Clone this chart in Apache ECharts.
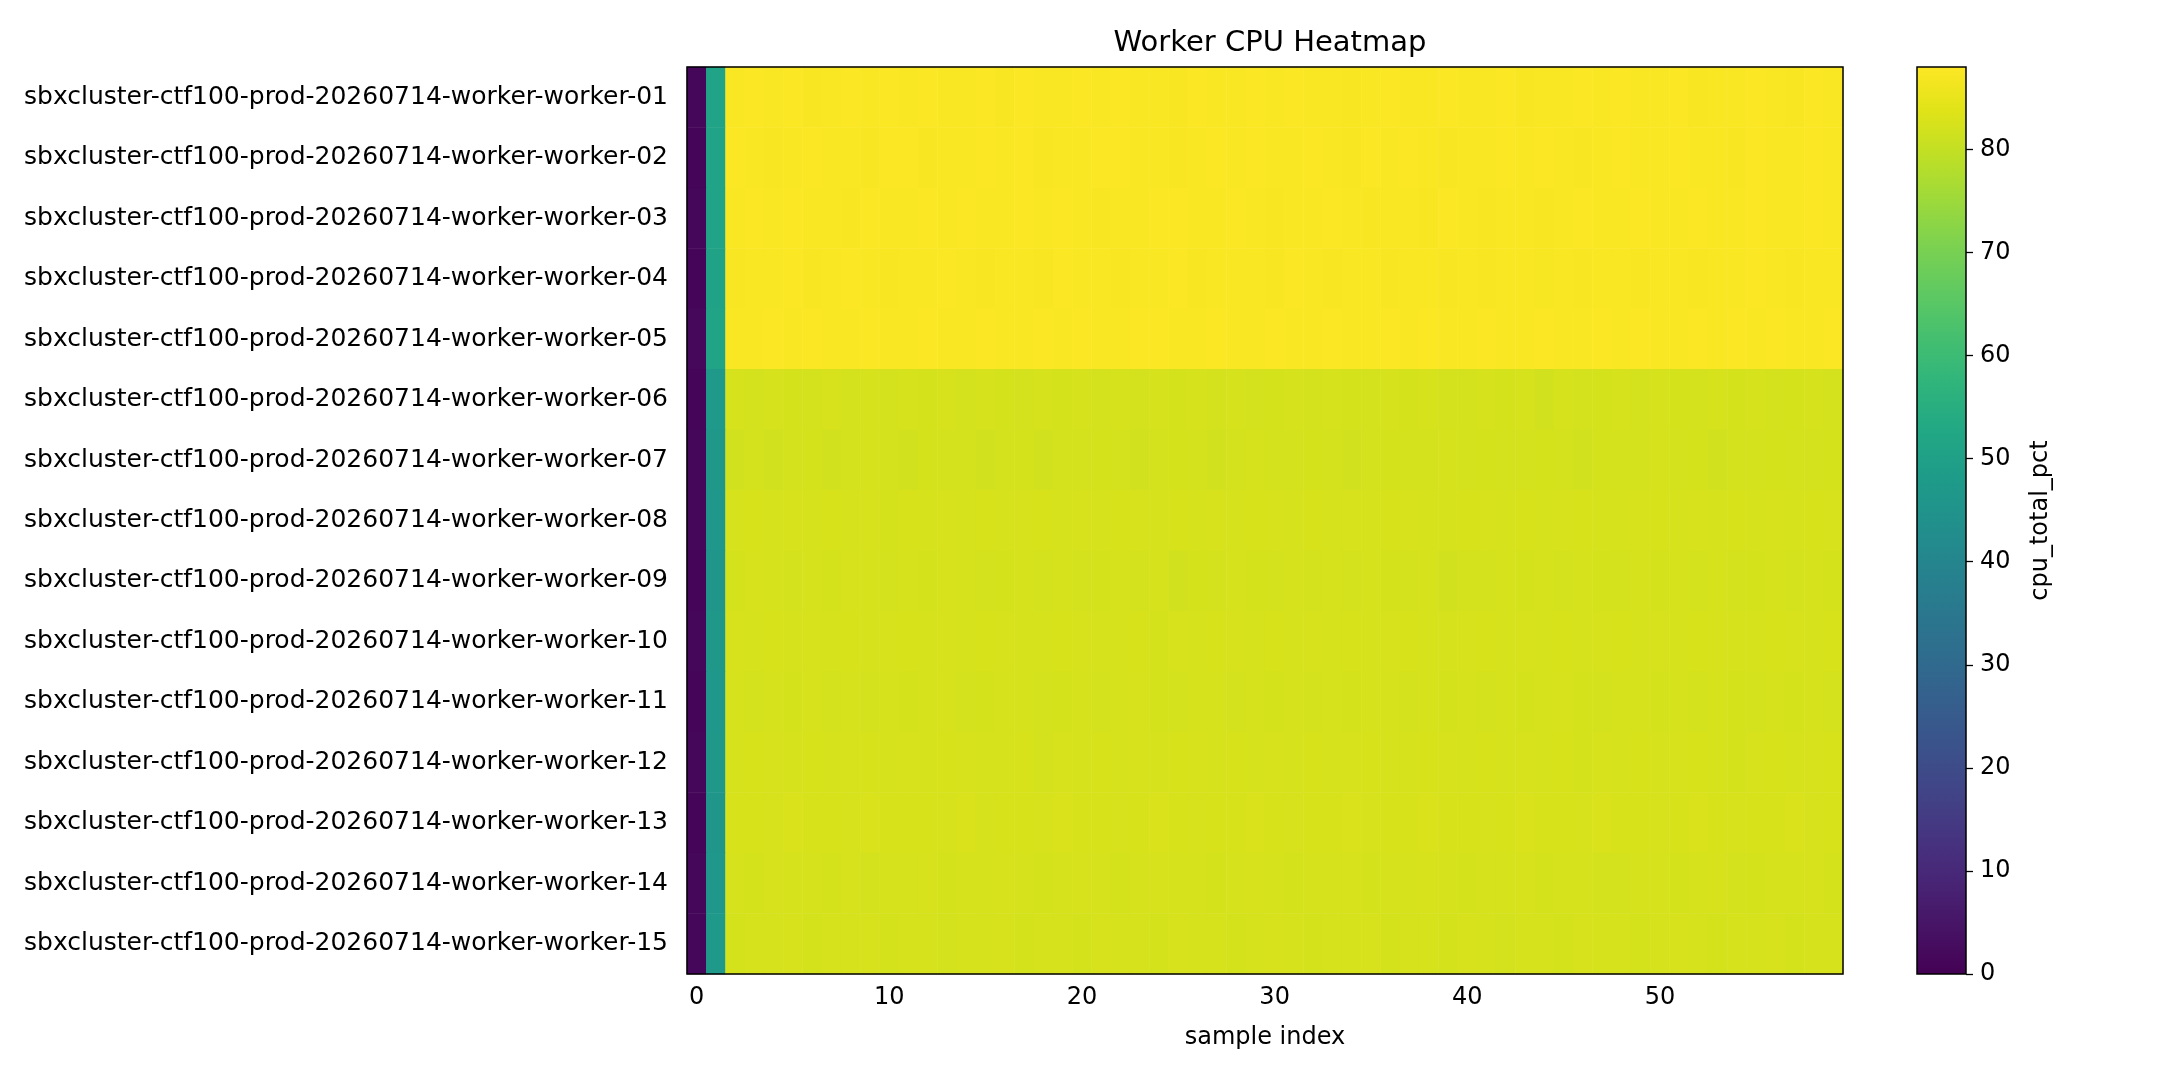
<!DOCTYPE html>
<html>
<head>
<meta charset="utf-8">
<script src="https://cdn.jsdelivr.net/npm/echarts@6/dist/echarts.min.js"></script>
<style>html,body{margin:0;padding:0;background:#fff}#main{width:2160px;height:1080px}</style>
</head>
<body>
<div id="main"></div>
<script>
var workers = [];
for (var w = 1; w <= 15; w++) {
  workers.push('sbxcluster-ctf100-prod-20260714-worker-worker-' + (w < 10 ? '0' + w : w));
}
var samples = [];
for (var s = 0; s < 60; s++) samples.push(String(s));

// cpu_total_pct per worker, 60 samples each
var w01 = [1.4,51.0,87.6,87.8,87.5,87.7,87.2,87.6,87.8,87.5,87.7,87.6,87.8,87.5,87.6,87.7,87.4,87.8,87.6,87.5,87.7,87.6,87.8,87.5,87.6,87.4,87.7,87.6,87.5,87.8,87.6,87.7,87.5,87.6,87.4,87.6,87.8,87.5,87.6,87.7,87.5,87.6,87.8,87.4,87.6,87.5,87.7,87.6,87.8,87.5,87.6,87.7,87.3,87.6,87.5,87.8,87.6,87.2,87.7,87.6];
var w02 = [1.3,50.8,87.7,87.5,87.2,87.6,87.8,87.5,87.6,87.4,87.7,87.8,87.3,87.6,87.5,87.7,87.6,87.8,87.4,87.6,87.5,87.7,87.8,87.6,87.5,87.4,87.6,87.7,87.5,87.8,87.6,87.5,87.7,87.6,87.4,87.7,87.5,87.8,87.6,87.2,87.5,87.6,87.7,87.5,87.8,87.6,87.4,87.6,87.7,87.5,87.6,87.8,87.5,87.6,87.4,87.7,87.6,87.5,87.8,87.6];
var w03 = [1.5,51.1,87.5,87.7,87.6,87.8,87.5,87.6,87.4,87.7,87.6,87.5,87.8,87.6,87.7,87.5,87.6,87.8,87.5,87.7,87.6,87.4,87.6,87.5,87.7,87.8,87.6,87.5,87.7,87.6,87.3,87.6,87.5,87.7,87.6,87.2,87.5,87.6,87.4,87.7,87.6,87.3,87.6,87.5,87.2,87.6,87.7,87.5,87.6,87.8,87.5,87.6,87.7,87.5,87.6,87.8,87.6,87.5,87.7,87.6];
var w04 = [1.2,50.7,87.3,87.6,87.5,87.7,87.4,87.6,87.8,87.5,87.3,87.6,87.5,87.7,87.6,87.4,87.5,87.6,87.3,87.7,87.5,87.6,87.4,87.6,87.5,87.7,87.3,87.6,87.5,87.6,87.4,87.7,87.5,87.3,87.6,87.5,87.2,87.6,87.5,87.3,87.6,87.2,87.5,87.6,87.1,87.5,87.3,87.6,87.5,87.4,87.6,87.5,87.3,87.6,87.5,87.7,87.6,87.4,87.6,87.5];
var w05 = [1.6,51.2,87.6,87.5,87.7,87.6,87.8,87.5,87.6,87.7,87.5,87.6,87.8,87.6,87.5,87.7,87.6,87.5,87.8,87.6,87.7,87.5,87.6,87.7,87.8,87.5,87.6,87.7,87.5,87.6,87.8,87.6,87.5,87.7,87.6,87.5,87.8,87.6,87.7,87.5,87.6,87.8,87.5,87.6,87.7,87.6,87.5,87.8,87.6,87.7,87.5,87.6,87.7,87.5,87.8,87.6,87.7,87.5,87.6,87.7];
var w06 = [1.3,47.0,82.3,82.0,82.4,82.2,82.0,82.5,82.1,82.3,82.0,82.4,82.2,82.5,82.1,82.3,82.2,82.0,82.4,82.2,82.3,82.1,82.4,82.0,82.3,82.2,82.4,82.1,82.3,82.0,82.2,82.4,82.1,82.3,82.2,82.0,82.4,82.2,82.3,82.1,82.0,82.3,82.2,82.4,81.9,82.3,82.1,82.2,82.4,82.0,82.3,82.2,82.1,82.4,82.2,82.3,82.0,82.2,82.3,82.1];
var w07 = [1.4,46.7,81.9,82.1,81.8,82.0,82.2,81.9,82.1,82.3,82.0,81.9,82.2,82.0,82.1,81.8,82.0,82.2,81.9,82.1,82.0,82.2,82.1,81.9,82.0,82.2,82.1,81.8,82.0,82.3,82.1,82.0,82.2,82.1,81.9,82.0,82.2,82.0,82.1,82.3,82.0,82.2,82.1,82.0,82.2,82.1,81.9,82.2,82.0,82.1,82.3,82.0,82.2,81.9,82.1,82.0,82.2,82.1,82.0,82.2];
var w08 = [1.5,46.4,82.4,82.6,82.3,82.5,82.4,82.6,82.3,82.5,82.2,82.6,82.4,82.5,82.3,82.6,82.4,82.5,82.6,82.3,82.5,82.4,82.6,82.5,82.3,82.6,82.4,82.5,82.3,82.6,82.5,82.4,82.6,82.3,82.5,82.4,82.6,82.5,82.3,82.4,82.6,82.5,82.3,82.6,82.4,82.5,82.6,82.4,82.3,82.5,82.6,82.4,82.5,82.3,82.6,82.4,82.5,82.3,82.6,82.5];
var w09 = [1.2,46.1,82.2,82.5,82.3,82.0,82.4,82.2,82.5,82.3,82.1,82.4,82.2,82.5,82.3,82.0,82.2,82.4,82.1,82.3,82.0,82.2,82.4,82.1,82.3,81.9,82.2,82.0,82.4,82.2,82.1,82.3,82.0,82.4,82.1,82.3,82.2,82.0,82.3,81.9,82.0,82.1,82.4,82.2,82.3,82.1,82.4,82.2,82.0,82.3,82.2,82.4,82.1,82.3,82.0,82.2,82.4,82.1,82.3,82.2];
var w10 = [1.4,46.8,82.5,82.3,82.6,82.4,82.5,82.3,82.6,82.4,82.5,82.6,82.3,82.5,82.4,82.6,82.5,82.3,82.4,82.6,82.5,82.4,82.3,82.6,82.2,82.5,82.4,82.6,82.5,82.3,82.6,82.4,82.5,82.3,82.6,82.4,82.5,82.6,82.4,82.3,82.5,82.6,82.4,82.5,82.3,82.6,82.4,82.5,82.6,82.3,82.5,82.4,82.6,82.5,82.3,82.4,82.6,82.5,82.4,82.6];
var w11 = [1.3,46.2,82.3,82.1,82.4,82.2,82.5,82.0,82.3,82.1,82.4,82.2,82.3,82.5,82.1,82.2,82.4,82.3,82.0,82.2,82.4,82.1,82.3,82.5,82.2,82.0,82.3,82.4,82.1,82.3,82.2,82.4,82.1,82.3,82.2,82.4,82.3,82.1,82.4,82.2,82.3,82.1,82.4,82.2,82.3,82.5,82.2,82.1,82.3,82.4,82.2,82.3,82.1,82.4,82.2,82.0,82.3,82.2,82.4,82.1];
var w12 = [1.5,46.6,82.4,82.6,82.5,82.3,82.6,82.4,82.5,82.6,82.3,82.5,82.4,82.6,82.5,82.3,82.4,82.6,82.1,82.5,82.4,82.6,82.3,82.5,82.4,82.6,82.5,82.3,82.6,82.4,82.5,82.3,82.6,82.4,82.5,82.6,82.3,82.4,82.6,82.5,82.3,82.6,82.4,82.5,82.3,82.6,82.2,82.5,82.4,82.6,82.3,82.5,82.6,82.4,82.2,82.5,82.6,82.4,82.5,82.6];
var w13 = [1.2,45.8,82.6,82.7,82.5,82.8,82.6,82.7,82.5,82.8,82.6,82.7,82.6,82.5,82.8,82.4,82.7,82.6,82.5,82.8,82.6,82.7,82.5,82.6,82.8,82.7,82.5,82.6,82.7,82.8,82.6,82.5,82.7,82.6,82.8,82.5,82.7,82.6,82.8,82.6,82.7,82.5,82.6,82.8,82.7,82.6,82.5,82.8,82.7,82.6,82.5,82.7,82.8,82.6,82.5,82.7,82.6,82.8,82.5,82.7];
var w14 = [1.4,46.5,82.4,82.2,82.5,82.3,82.4,82.2,82.5,82.0,82.4,82.3,82.5,82.2,82.4,82.3,82.5,82.4,82.2,82.3,82.5,82.4,82.2,82.3,82.5,82.4,82.3,82.2,82.4,82.5,82.3,82.2,82.4,82.3,82.5,82.2,82.4,82.3,82.5,82.4,82.2,82.3,82.4,82.5,82.2,82.3,82.4,82.1,82.0,82.3,82.4,82.2,82.3,82.5,82.0,82.2,82.4,82.3,82.5,82.2];
var w15 = [1.5,47.1,82.2,82.4,82.3,82.5,82.2,82.4,82.3,82.5,82.2,82.4,82.3,82.1,82.4,82.3,82.5,82.2,82.4,82.3,82.2,82.5,82.3,82.4,82.2,82.5,82.3,82.4,82.2,82.3,82.5,82.4,82.2,82.3,82.4,82.5,82.2,82.3,82.4,82.2,82.5,82.3,82.0,82.4,82.3,82.2,82.5,82.4,82.3,82.2,82.4,82.5,82.3,82.2,82.4,82.3,82.5,82.2,82.4,82.3];
var rows = [w01,w02,w03,w04,w05,w06,w07,w08,w09,w10,w11,w12,w13,w14,w15];

var colorMin = 0, colorMax = 88;
// viridis sampled every 0.05
var viridis = ['#440154','#471365','#482475','#463480','#414487','#3b528b','#355f8d','#2f6c8e','#2a788e','#25848e','#21918c',
  '#1e9c89','#22a884','#2fb47c','#44bf70','#5ec962','#7ad151','#9bd93c','#bddf26','#dfe318','#fde725'];

var heat = [];
rows.forEach(function(r, i) {
  r.forEach(function(v, j) { heat.push([j, i, v]); });
});

var gradStops = viridis.map(function(c, i) {
  return { offset: 1 - i / (viridis.length - 1), color: c };
});

var chart = echarts.init(document.getElementById('main'));
var font = 'DejaVu Sans';
chart.setOption({
  animation: false,
  textStyle: { fontFamily: font },
  title: {
    text: 'Worker CPU Heatmap', left: 1265, top: 24, textAlign: 'center',
    textStyle: { fontSize: 29, fontWeight: 'normal', color: '#000', fontFamily: font }
  },
  grid: [
    { left: 687, top: 67, width: 1156, height: 907 },
    { left: 1917, top: 67, width: 49, height: 907 }
  ],
  xAxis: [{
    type: 'category', data: samples, gridIndex: 0,
    name: 'sample index', nameLocation: 'middle', nameGap: 52,
    nameTextStyle: { fontSize: 24, color: '#000' },
    axisLine: { show: false },
    axisTick: { interval: 9, alignWithLabel: true, length: 7, lineStyle: { color: '#000', width: 1.3 } },
    axisLabel: { interval: 9, fontSize: 24, color: '#000', margin: 12 },
    splitLine: { show: false }
  }, {
    type: 'category', data: ['c'], gridIndex: 1, show: false
  }],
  yAxis: [{
    type: 'category', data: workers, gridIndex: 0, inverse: true,
    axisLine: { show: false },
    axisTick: { alignWithLabel: true, length: 7, lineStyle: { color: '#000', width: 1.3 } },
    axisLabel: { fontSize: 25, color: '#000', margin: 19 },
    splitLine: { show: false }
  }, {
    type: 'value', gridIndex: 1, position: 'right', min: colorMin, max: colorMax, interval: 10,
    name: 'cpu_total_pct', nameLocation: 'middle', nameGap: 63, nameRotate: 90,
    nameTextStyle: { fontSize: 24, color: '#000' },
    axisLine: { show: false },
    axisTick: { show: true, length: 7, lineStyle: { color: '#000', width: 1.3 } },
    axisLabel: { fontSize: 24, color: '#000', margin: 14, showMaxLabel: false },
    splitLine: { show: false }
  }],
  visualMap: {
    show: false, type: 'continuous', min: colorMin, max: colorMax, seriesIndex: 0,
    inRange: { color: viridis }
  },
  series: [{
    type: 'heatmap', data: heat, xAxisIndex: 0, yAxisIndex: 0
  }, {
    type: 'bar', data: [colorMax], xAxisIndex: 1, yAxisIndex: 1, barWidth: '100%',
    itemStyle: { color: new echarts.graphic.LinearGradient(0, 0, 0, 1, gradStops) },
    silent: true
  }],
  graphic: [
    { type: 'rect', shape: { x: 687, y: 67, width: 1156, height: 907 }, style: { fill: 'none', stroke: '#000', lineWidth: 1.5 }, z: 100 },
    { type: 'rect', shape: { x: 1917, y: 67, width: 49, height: 907 }, style: { fill: 'none', stroke: '#000', lineWidth: 1.5 }, z: 100 }
  ]
});
</script>
</body>
</html>
